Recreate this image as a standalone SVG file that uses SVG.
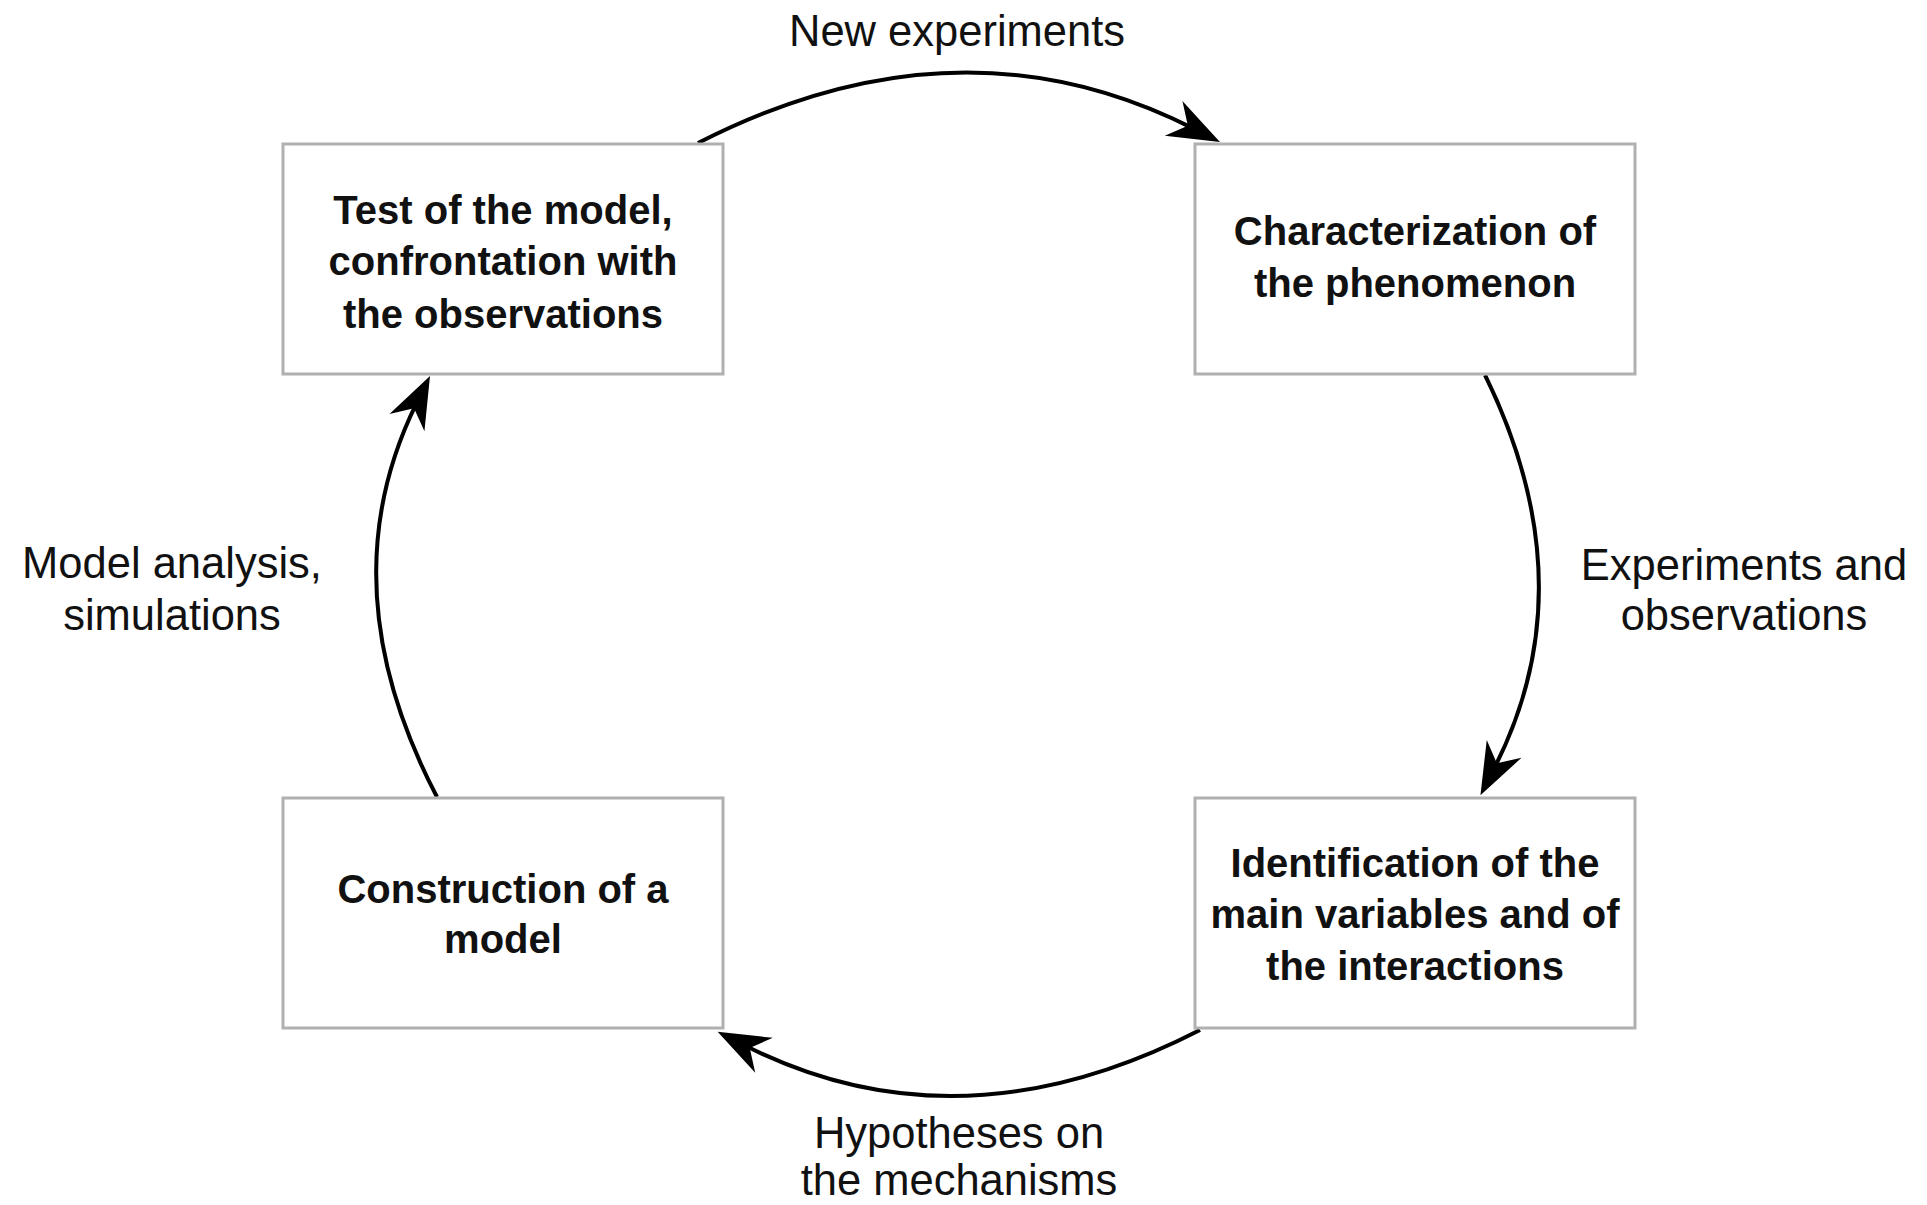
<svg xmlns="http://www.w3.org/2000/svg" width="1927" height="1205" viewBox="0 0 1927 1205">
<style>
.box{fill:#ffffff;stroke:#b0b0b0;stroke-width:3}
.nt{font-family:"Liberation Sans",Arial,sans-serif;font-weight:bold;font-size:40px;fill:#111;text-anchor:middle}
.lb{font-family:"Liberation Sans",Arial,sans-serif;font-size:43.5px;fill:#111;text-anchor:middle}
.arc{fill:none;stroke:#000;stroke-width:4;marker-end:url(#ah)}
</style>
<defs>
<marker id="ah" markerUnits="userSpaceOnUse" orient="auto" refX="0" refY="0" markerWidth="60" markerHeight="60" style="overflow:visible">
<path d="M30,0 L-22,-19.5 L-6,0 L-22,19.5 Z" fill="#000"/>
</marker>
</defs>
<rect width="1927" height="1205" fill="#ffffff"/>
<g id="connectors">
<path class="arc" d="M698,143 Q959,9.5 1193.2,128.4"/>
<path class="arc" d="M1485,375 Q1588,585 1494.1,768.5"/>
<path class="arc" d="M1200,1030 Q959,1154 744.4,1045.3"/>
<path class="arc" d="M437,797 Q326.5,585.5 416.7,402.9"/>
</g>
<g id="labels">
<text class="lb" x="957" y="46">New experiments</text>
<text class="lb" x="1744" y="580">Experiments and</text>
<text class="lb" x="1744" y="630">observations</text>
<text class="lb" x="959" y="1148">Hypotheses on</text>
<text class="lb" x="959" y="1195">the mechanisms</text>
<text class="lb" x="172" y="578">Model analysis,</text>
<text class="lb" x="172" y="630">simulations</text>
</g>
<g id="node-test">
<rect class="box" x="283" y="144" width="440" height="230"/>
<text class="nt" x="503" y="224">Test of the model,</text>
<text class="nt" x="503" y="275">confrontation with</text>
<text class="nt" x="503" y="328">the observations</text>
</g>
<g id="node-characterization">
<rect class="box" x="1195" y="144" width="440" height="230"/>
<text class="nt" x="1415" y="245">Characterization of</text>
<text class="nt" x="1415" y="297">the phenomenon</text>
</g>
<g id="node-construction">
<rect class="box" x="283" y="798" width="440" height="230"/>
<text class="nt" x="503" y="903">Construction of a</text>
<text class="nt" x="503" y="953">model</text>
</g>
<g id="node-identification">
<rect class="box" x="1195" y="798" width="440" height="230"/>
<text class="nt" x="1415" y="877">Identification of the</text>
<text class="nt" x="1415" y="928">main variables and of</text>
<text class="nt" x="1415" y="980">the interactions</text>
</g>
</svg>
